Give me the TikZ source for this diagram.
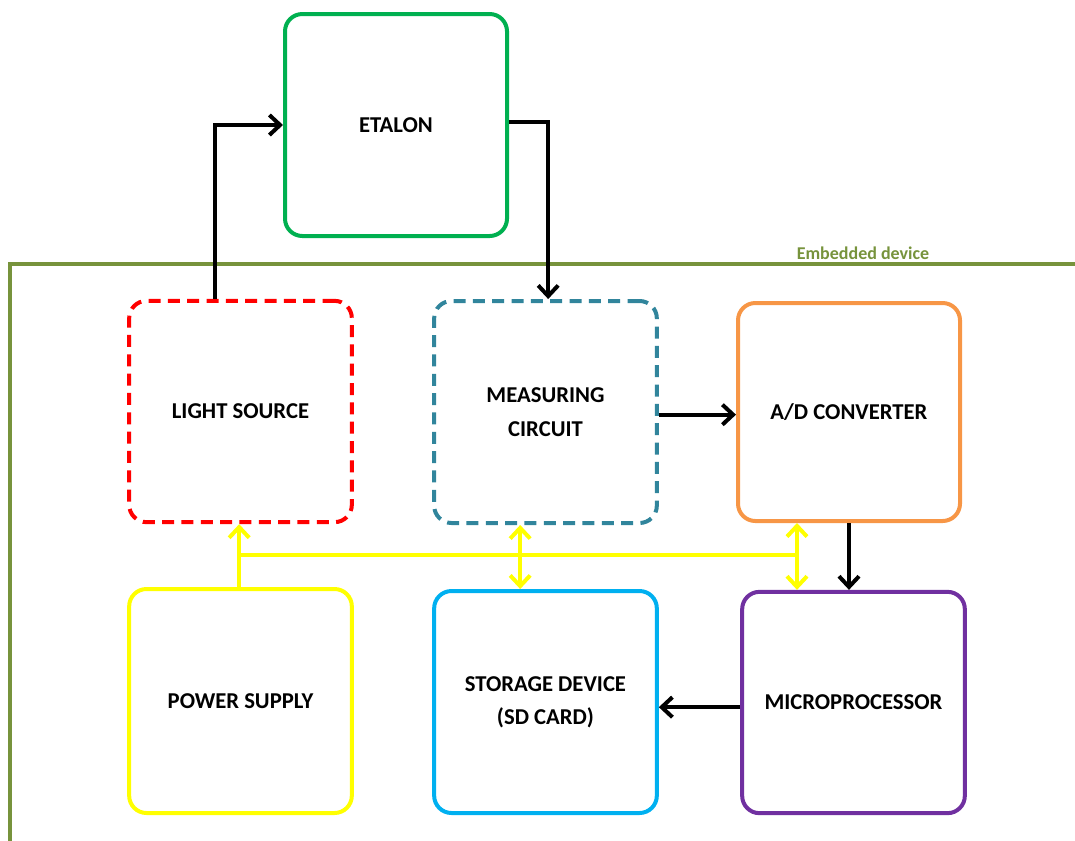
\documentclass[tikz,border=0pt]{standalone}
\usepackage{fontspec}
\setmainfont{Carlito}
\usetikzlibrary{arrows.meta,calc}
\definecolor{cgreen}{HTML}{00B050}
\definecolor{colive}{HTML}{77933C}
\definecolor{cred}{HTML}{FF0000}
\definecolor{cteal}{HTML}{31859C}
\definecolor{corange}{HTML}{F79646}
\definecolor{cyel}{HTML}{FFFF00}
\definecolor{cblue}{HTML}{00B0F0}
\definecolor{cpurple}{HTML}{7030A0}
\tikzset{
  box/.style={draw, line width=3pt, rounded corners=13pt, align=center,
    font=\fontsize{17}{21}\selectfont\bfseries, inner sep=0pt},
  dashbox/.style={box, dash pattern=on 9pt off 5.5pt},
  tip/.style={},
  arr/.style={line width=3pt, black, -{Straight Barb[length=8pt,width=15pt,line width=3pt]}},
  yarr/.style={line width=3pt, cyel, -{Straight Barb[length=8pt,width=15pt,line width=3pt]}},
  ydarr/.style={line width=3pt, cyel, {Straight Barb[length=8pt,width=15pt,line width=3pt]}-{Straight Barb[length=8pt,width=15pt,line width=3pt]}},
  yline/.style={line width=3pt, cyel}
}
\begin{document}
\begin{tikzpicture}[x=0.75pt,y=-0.75pt]
\useasboundingbox (0,0) rectangle (1075,840);
% embedded device frame
\coordinate (frTR) at (1077,264);
\coordinate (frTL) at (10,264);
\coordinate (frBL) at (10,845);
\draw[colive, line width=3pt] (frTR) -- (frTL) -- (frBL);
\node[text=colive, font=\fontsize{13.5}{15}\selectfont\bfseries] (emb) at (863,253) {Embedded device};
% boxes
\node[box, draw=cgreen, minimum width=166.5pt, minimum height=166.5pt] (etalon) at (396,125) {ETALON};
\node[dashbox, draw=cred, minimum width=167pt, minimum height=166pt] (light) at (240.5,411.5) {LIGHT SOURCE};
\node[dashbox, draw=cteal, minimum width=167pt, minimum height=166.5pt] (meas) at (545.5,412) {MEASURING\\[4pt]CIRCUIT};
\node[box, draw=corange, minimum width=166.5pt, minimum height=163.5pt] (ad) at (849,412) {A/D CONVERTER};
\node[box, draw=cyel, minimum width=167pt, minimum height=168pt] (power) at (240.5,701) {POWER SUPPLY};
\node[box, draw=cblue, minimum width=167pt, minimum height=166.5pt] (storage) at (545.5,702) {STORAGE DEVICE\\[4pt](SD CARD)};
\node[box, draw=cpurple, minimum width=167pt, minimum height=166pt] (micro) at (853.5,702.5) {MICROPROCESSOR};
% black arrows
\draw[arr] ([xshift=-19.5pt]light.north) |- (etalon.west);
\draw[arr] ([yshift=2pt]etalon.east) -| ([xshift=2pt]meas.north);
\draw[arr] ([yshift=-2pt]meas.east) -- ([yshift=-2pt]meas.east -| ad.west);
\draw[arr] (ad.south) -- (ad.south |- micro.north);
\draw[arr] ([yshift=-3.5pt]micro.west) -- ([yshift=-3.5pt]micro.west -| storage.east);
% yellow bus
\coordinate (busL) at (239,555);
\coordinate (busR) at (797,555);
\draw[yarr] ([xshift=-1pt]power.north) -- ([xshift=-1pt]power.north |- light.south);
\draw[yline] (busL) -- (busR);
\draw[ydarr] ([xshift=-19pt]meas.south) -- ([xshift=-19pt]meas.south |- storage.north);
\draw[ydarr] (ad.south -| busR) -- (micro.north -| busR);
\end{tikzpicture}
\end{document}
